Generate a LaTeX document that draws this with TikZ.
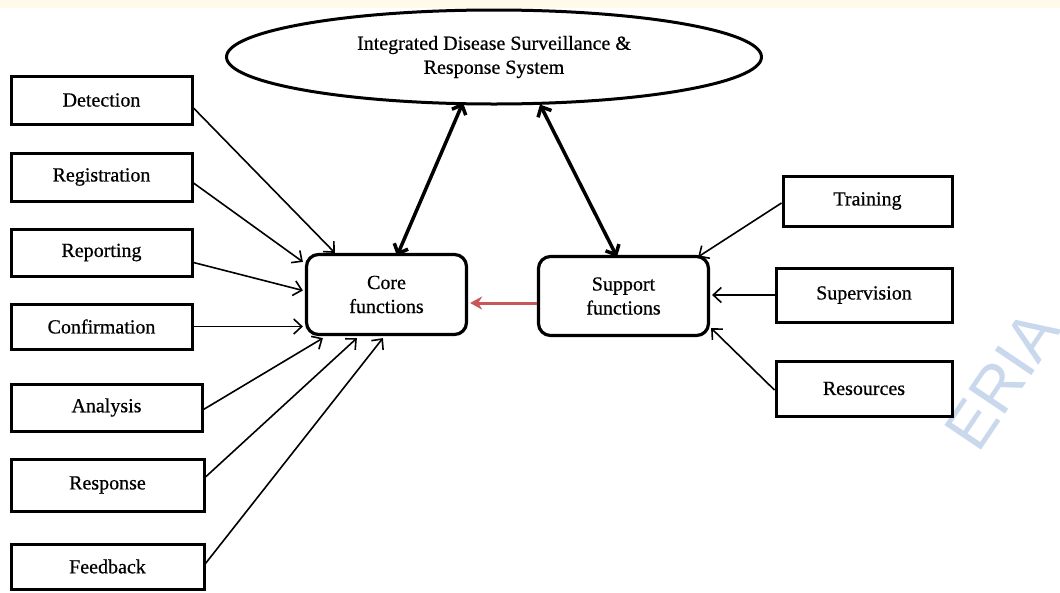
\documentclass[tikz,border=0pt]{standalone}
\usepackage{fontspec}
\setmainfont{Liberation Serif}
\newfontfamily\diagfont[FakeBold=0.6]{Liberation Serif}
\newfontfamily\wmfont{Liberation Sans}
\usetikzlibrary{arrows.meta,shapes.geometric}
\definecolor{bandyellow}{HTML}{FFFAEA}
\definecolor{wmblue}{HTML}{C9D8EC}
\definecolor{arrowred}{HTML}{C8575A}
\begin{document}
\begin{tikzpicture}[x=1pt,y=-1pt,
  txt/.style={font=\diagfont\fontsize{20}{24}\selectfont},
  box/.style={draw, line width=3pt, inner sep=0pt, txt},
  rbox/.style={draw, line width=3.2pt, rounded corners=12pt, inner sep=0pt, align=center, txt},
  conn/.style={line width=1.6pt, -{Straight Barb[length=8pt,width=15pt]}},
  dbl/.style={line width=3.5pt, {Straight Barb[length=8pt,width=15pt]}-{Straight Barb[length=8pt,width=15pt]}},
  redarrow/.style={arrowred, line width=3pt, -{Stealth[length=12pt,width=13pt]}},
]
\useasboundingbox (0,0) rectangle (1060,592);
\fill[white] (0,0) rectangle (1060,592);
\fill[bandyellow] (0,0) rectangle (1060,8);

% watermark
\node[wmblue, rotate=56, font=\wmfont\fontsize{64}{64}\selectfont, inner sep=0pt] (wm) at (1002,380) {ERIA};

% ellipse
\node[draw, ellipse, line width=3pt, minimum width=535pt, minimum height=94pt, inner sep=0pt, align=center, txt] (ids) at (494,57)
  {Integrated Disease Surveillance \&\\Response System};

% left boxes
\node[box, minimum width=181pt, minimum height=48pt] (det)  at (101.5,100)   {Detection};
\node[box, minimum width=181pt, minimum height=48pt] (reg)  at (101.5,177)   {Registration};
\node[box, minimum width=181pt, minimum height=47pt] (rep)  at (101.5,252.5) {Reporting};
\node[box, minimum width=181pt, minimum height=45pt] (conf) at (101.5,326.5) {Confirmation};
\node[box, minimum width=191pt, minimum height=47pt] (ana)  at (106.5,407.5) {Analysis};
\node[box, minimum width=193pt, minimum height=52pt] (resp) at (107.5,485)   {Response};
\node[box, minimum width=193pt, minimum height=45pt] (fb)   at (107.5,566.5) {Feedback};

% right boxes
\node[box, minimum width=169pt, minimum height=50pt] (tr)  at (867.5,201)   {Training};
\node[box, minimum width=176pt, minimum height=54pt] (sv)  at (864,295)     {Supervision};
\node[box, minimum width=176pt, minimum height=55pt] (res) at (864,388.5)   {Resources};

% central boxes
\node[rbox, minimum width=160pt, minimum height=80pt] (core) at (386.5,294.5) {Core\\functions};
\node[rbox, minimum width=170pt, minimum height=79pt] (sup)  at (623.5,296)   {Support\\functions};

% connectors to core
\draw[conn] ([yshift=-8pt]det.east)  -- ([xshift=30pt]core.north west);
\draw[conn] ([yshift=-6pt]reg.east)  -- ([yshift=-9pt,xshift=-2pt]core.north west);
\draw[conn] ([yshift=-10pt]rep.east) -- ([yshift=4pt,xshift=-2pt]core.west);
\draw[conn] (conf.east) -- ([xshift=-2pt]conf.east -| core.west);
\draw[conn] ([yshift=-2pt]ana.east)  -- ([xshift=18pt,yshift=-2pt]core.south west);
\draw[conn] ([yshift=8pt]resp.east)  -- ([xshift=52pt,yshift=-2pt]core.south west);
\draw[conn] ([yshift=3pt]fb.east)    -- ([xshift=78pt,yshift=-2pt]core.south west);

% double arrows
\draw[dbl] ([xshift=-31pt,yshift=3pt]ids.south) -- ([xshift=10.5pt,yshift=-3pt]core.north);
\draw[dbl] ([xshift=46pt,yshift=1pt]ids.south)  -- ([xshift=-6.5pt,yshift=-2pt]sup.north);

% support to core
\draw[redarrow] ([yshift=-7pt]sup.west) -- ([yshift=-8.5pt,xshift=2pt]core.east);

% connectors to support
\draw[conn] ([yshift=-2pt]tr.west) -- ([xshift=-12pt,yshift=-2pt]sup.north east);
\draw[conn] (sv.west) -- ([xshift=2pt]sv.west -| sup.east);
\draw[conn] ([yshift=-1.5pt]res.west) -- ([yshift=9pt,xshift=1pt]sup.south east);
\end{tikzpicture}
\end{document}
